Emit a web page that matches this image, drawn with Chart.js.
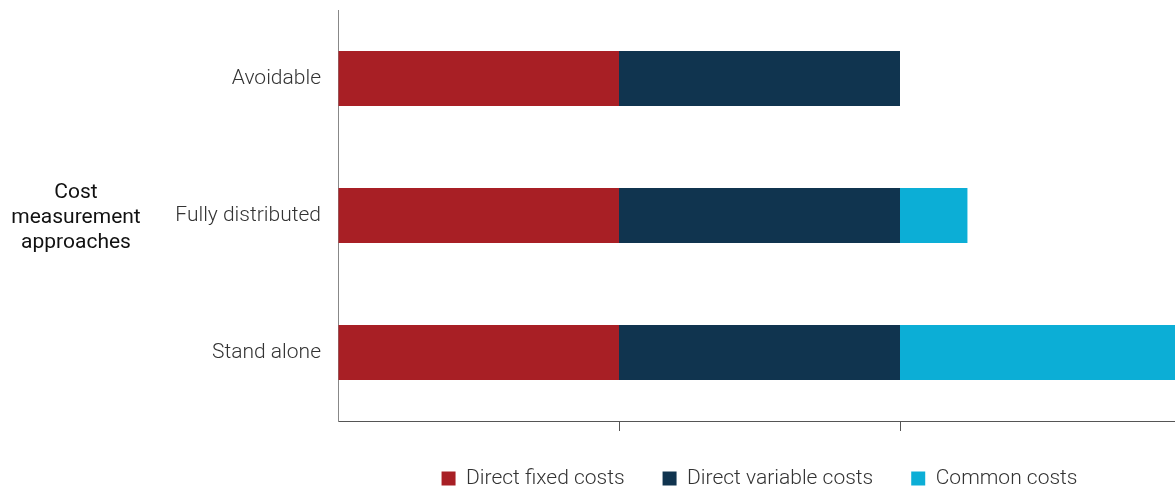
<!DOCTYPE html>
<html>
<head>
<meta charset="utf-8">
<script src="https://cdn.jsdelivr.net/npm/chart.js@4"></script>
<style>
  html, body { margin: 0; padding: 0; overflow: hidden; background: #fff; }
  #wrap { width: 1175px; height: 489px; overflow: hidden; }
  canvas { display: block; }
</style>
</head>
<body>
<div id="wrap"><canvas id="c" width="1181" height="499"></canvas></div>
<script>
const categories = ["Avoidable", "Fully distributed", "Stand alone"];
const directFixed = [1, 1, 1];
const directVariable = [1, 1, 1];
const commonCosts = [0, 0.24, 1];
const seriesNames = ["Direct fixed costs", "Direct variable costs", "Common costs"];
const axisTitle = ["Cost", "measurement", "approaches"];

const titlePlugin = {
  id: 'yTitle',
  afterDraw(chart) {
    const ctx = chart.ctx;
    const area = chart.chartArea;
    const cy = (area.top + area.bottom) / 2 + 2;
    ctx.save();
    ctx.font = '400 21px Roboto';
    ctx.fillStyle = '#111';
    ctx.textAlign = 'center';
    ctx.textBaseline = 'middle';
    const lh = 25;
    axisTitle.forEach((t, i) => {
      ctx.fillText(t, 76, cy + (i - (axisTitle.length - 1) / 2) * lh);
    });
    ctx.restore();
  }
};

new Chart(document.getElementById('c'), {
  type: 'bar',
  data: {
    labels: categories,
    datasets: [
      { label: seriesNames[0], data: directFixed, backgroundColor: '#A81F25' },
      { label: seriesNames[1], data: directVariable, backgroundColor: '#10344F' },
      { label: seriesNames[2], data: commonCosts, backgroundColor: '#0CAED6' }
    ]
  },
  options: {
    indexAxis: 'y',
    responsive: false,
    animation: false,
    devicePixelRatio: 1,
    layout: { padding: { top: 10, left: 0, right: 0, bottom: 0 } },
    datasets: { bar: { categoryPercentage: 0.8, barPercentage: 0.5 } },
    scales: {
      x: {
        stacked: true,
        min: 0,
        max: 3,
        ticks: { display: false, stepSize: 1 },
        grid: {
          drawOnChartArea: false,
          drawTicks: true,
          tickLength: 10,
          color: (c) => (c.tick && c.tick.value === 0) ? 'rgba(0,0,0,0)' : '#555'
        },
        border: { display: true, color: '#555', width: 1 },
        afterFit: (s) => { s.height = 9; s.paddingLeft = 0; s.paddingRight = 0; }
      },
      y: {
        stacked: true,
        grid: { display: false, drawTicks: false },
        border: { display: true, color: '#888', width: 1 },
        ticks: {
          padding: 17,
          color: '#333',
          font: { family: 'Roboto', size: 21, weight: '300' }
        },
        afterFit: (s) => { s.width = 338; s.paddingTop = 0; s.paddingBottom = 0; }
      }
    },
    plugins: {
      tooltip: { enabled: false },
      legend: {
        position: 'bottom',
        fullSize: false,
        labels: {
          boxWidth: 14,
          boxHeight: 14,
          padding: 38,
          color: '#333',
          font: { family: 'Roboto', size: 21, weight: '300' }
        }
      }
    }
  },
  plugins: [titlePlugin]
});
</script>
</body>
</html>
